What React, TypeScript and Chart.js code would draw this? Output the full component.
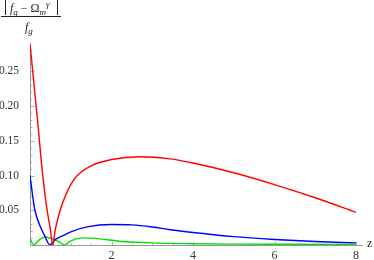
import React, { useEffect, useRef } from 'react';
import { Chart, registerables } from 'chart.js';

Chart.register(...registerables);

// ---- data ----
const RED_Z = [0, 0.1, 0.2, 0.3, 0.4, 0.5, 0.56, 0.62, 0.74, 0.85, 1.0, 1.16, 1.5, 2.0, 2.7, 3.44, 4, 5, 6, 7, 8];
const RED_V = [0.29, 0.23, 0.17, 0.107, 0.058, 0.022, 0, 0.022, 0.05, 0.068, 0.087, 0.1, 0.114, 0.123, 0.127, 0.124, 0.118, 0.104, 0.087, 0.068, 0.047];

const BLUE_Z = [0, 0.06, 0.12, 0.25, 0.37, 0.49, 0.6, 0.86, 1.0, 1.4, 2.0, 2.5, 3.0, 3.44, 4, 5, 6, 7, 8];
const BLUE_V = [0.1, 0.073, 0.05, 0.027, 0.012, 0, 0.007, 0.015, 0.019, 0.026, 0.0295, 0.029, 0.026, 0.022, 0.018, 0.012, 0.008, 0.005, 0.003];

const GREEN_Z = [0, 0.1, 0.2, 0.37, 0.55, 0.7, 0.85, 1.0, 1.3, 1.6, 2.2, 3, 4, 5, 6, 8];
const GREEN_V = [0.009, 0, 0.006, 0.0115, 0.009, 0.005, 0, 0.006, 0.0103, 0.0095, 0.0055, 0.003, 0.0018, 0.0012, 0.001, 0.0008];

const X_TICKS = [2, 4, 6, 8];
const X_LABELS = ['2', '4', '6', '8'];
const Y_TICKS = [0.05, 0.1, 0.15, 0.2, 0.25];
const Y_LABELS = ['0.05', '0.10', '0.15', '0.20', '0.25'];

const X_MIN = 0;
const X_MAX = 8;
const Y_MIN = 0;
const Y_MAX = 0.29;

const SERIF = "'Liberation Serif', 'Times New Roman', serif";

const toPoints = (zs: number[], vs: number[]) => zs.map((z, i) => ({ x: z, y: vs[i] }));

const axesPlugin = {
  id: 'mmaAxes',
  beforeDatasetsDraw(chart: any) {
    const { ctx, chartArea: a, scales } = chart;
    const xs = scales.x;
    const ys = scales.y;
    const x0 = Math.round(xs.getPixelForValue(0)) + 0.5;
    const y0 = Math.round(ys.getPixelForValue(0)) + 0.5;
    ctx.save();
    ctx.strokeStyle = '#b0b0b0';
    ctx.lineWidth = 1;
    ctx.beginPath();
    for (let k = 1; k <= 28; k++) {
      const v = k * 0.01;
      const py = Math.round(ys.getPixelForValue(v)) + 0.5;
      const len = k % 5 === 0 ? 4 : 2;
      ctx.moveTo(x0, py);
      ctx.lineTo(x0 + len, py);
    }
    for (let k = 1; k <= 16; k++) {
      const v = k * 0.5;
      const px = Math.round(xs.getPixelForValue(v)) + 0.5;
      const len = k % 4 === 0 ? 4 : 2;
      ctx.moveTo(px, y0);
      ctx.lineTo(px, y0 - len);
    }
    ctx.stroke();
    ctx.strokeStyle = '#999';
    ctx.beginPath();
    ctx.moveTo(x0, y0);
    ctx.lineTo(x0, a.top);
    ctx.moveTo(x0, y0);
    ctx.lineTo(a.right + 7, y0);
    ctx.stroke();
    ctx.restore();
  },
  afterDraw(chart: any) {
    const { ctx, chartArea: a } = chart;
    ctx.save();
    ctx.fillStyle = '#222';
    ctx.textBaseline = 'alphabetic';
    ctx.textAlign = 'left';
    const font = (size: number, italic: boolean) => `${italic ? 'italic ' : ''}${size}px ${SERIF}`;
    const drawSeq = (parts: { t: string; size: number; italic: boolean; dy: number }[], x: number, base: number) => {
      let cx = x;
      for (const p of parts) {
        ctx.font = font(p.size, p.italic);
        ctx.fillText(p.t, cx, base + p.dy);
        cx += ctx.measureText(p.t).width;
      }
      return cx;
    };
    drawSeq(
      [
        { t: 'f', size: 12, italic: true, dy: 0 },
        { t: 'g', size: 9, italic: true, dy: 3 },
        { t: ' \u2212 ', size: 12, italic: false, dy: 0 },
        { t: '\u03A9', size: 12, italic: false, dy: 0 },
        { t: 'm', size: 9, italic: true, dy: 3 },
        { t: '\u03B3', size: 9, italic: true, dy: -5 },
      ],
      10,
      12
    );
    drawSeq(
      [
        { t: 'f', size: 12, italic: true, dy: 0 },
        { t: 'g', size: 9, italic: true, dy: 3 },
      ],
      25,
      31
    );
    ctx.strokeStyle = '#222';
    ctx.lineWidth = 1;
    ctx.beginPath();
    ctx.moveTo(5.5, 0);
    ctx.lineTo(5.5, 15);
    ctx.moveTo(57.5, 0);
    ctx.lineTo(57.5, 15);
    ctx.moveTo(1, 16.5);
    ctx.lineTo(61, 16.5);
    ctx.stroke();
    ctx.font = font(12, false);
    ctx.fillText('z', a.right + 11, a.bottom + 2);
    ctx.restore();
  },
};

export default function App() {
  const ref = useRef<HTMLCanvasElement | null>(null);
  useEffect(() => {
    if (!ref.current) return;
    const mk = (label: string, zs: number[], vs: number[], color: string) => ({
      label,
      data: toPoints(zs, vs),
      borderColor: color,
      backgroundColor: color,
      borderWidth: 1.4,
      pointRadius: 0,
      cubicInterpolationMode: 'monotone' as const,
      fill: false,
    });
    const chart = new Chart(ref.current, {
      type: 'line',
      data: {
        datasets: [
          mk('red', RED_Z, RED_V, '#ff0000'),
          mk('blue', BLUE_Z, BLUE_V, '#0000ff'),
          mk('green', GREEN_Z, GREEN_V, '#00e000'),
        ],
      },
      options: {
        animation: false,
        responsive: false,
        maintainAspectRatio: false,
        layout: { padding: { top: 43.5, right: 18, left: 0, bottom: 0 } },
        plugins: { legend: { display: false }, tooltip: { enabled: false }, title: { display: false } },
        elements: { line: { tension: 0 } },
        scales: {
          x: {
            type: 'linear',
            min: X_MIN,
            max: X_MAX,
            grid: { display: false },
            border: { display: false },
            afterBuildTicks: (s: any) => {
              s.ticks = X_TICKS.map((v) => ({ value: v }));
            },
            afterFit: (s: any) => {
              s.height = 15;
            },
            ticks: {
              autoSkip: false,
              maxRotation: 0,
              padding: -4,
              color: '#333',
              font: { family: SERIF, size: 12 },
              callback: (_v: any, i: number) => X_LABELS[i],
            },
          },
          y: {
            type: 'linear',
            min: Y_MIN,
            max: Y_MAX,
            grid: { display: false },
            border: { display: false },
            afterBuildTicks: (s: any) => {
              s.ticks = Y_TICKS.map((v) => ({ value: v }));
            },
            afterFit: (s: any) => {
              s.width = 30;
            },
            ticks: {
              autoSkip: false,
              padding: 3,
              color: '#333',
              font: { family: SERIF, size: 11.5 },
              callback: (_v: any, i: number) => Y_LABELS[i],
            },
          },
        },
      },
      plugins: [axesPlugin],
    });
    return () => chart.destroy();
  }, []);
  return (
    <div style={{ position: 'fixed', left: 0, top: 0, width: 374, height: 260, background: '#fff' }}>
      <canvas ref={ref} width={374} height={260} style={{ width: 374, height: 260, display: 'block' }} />
    </div>
  );
}
